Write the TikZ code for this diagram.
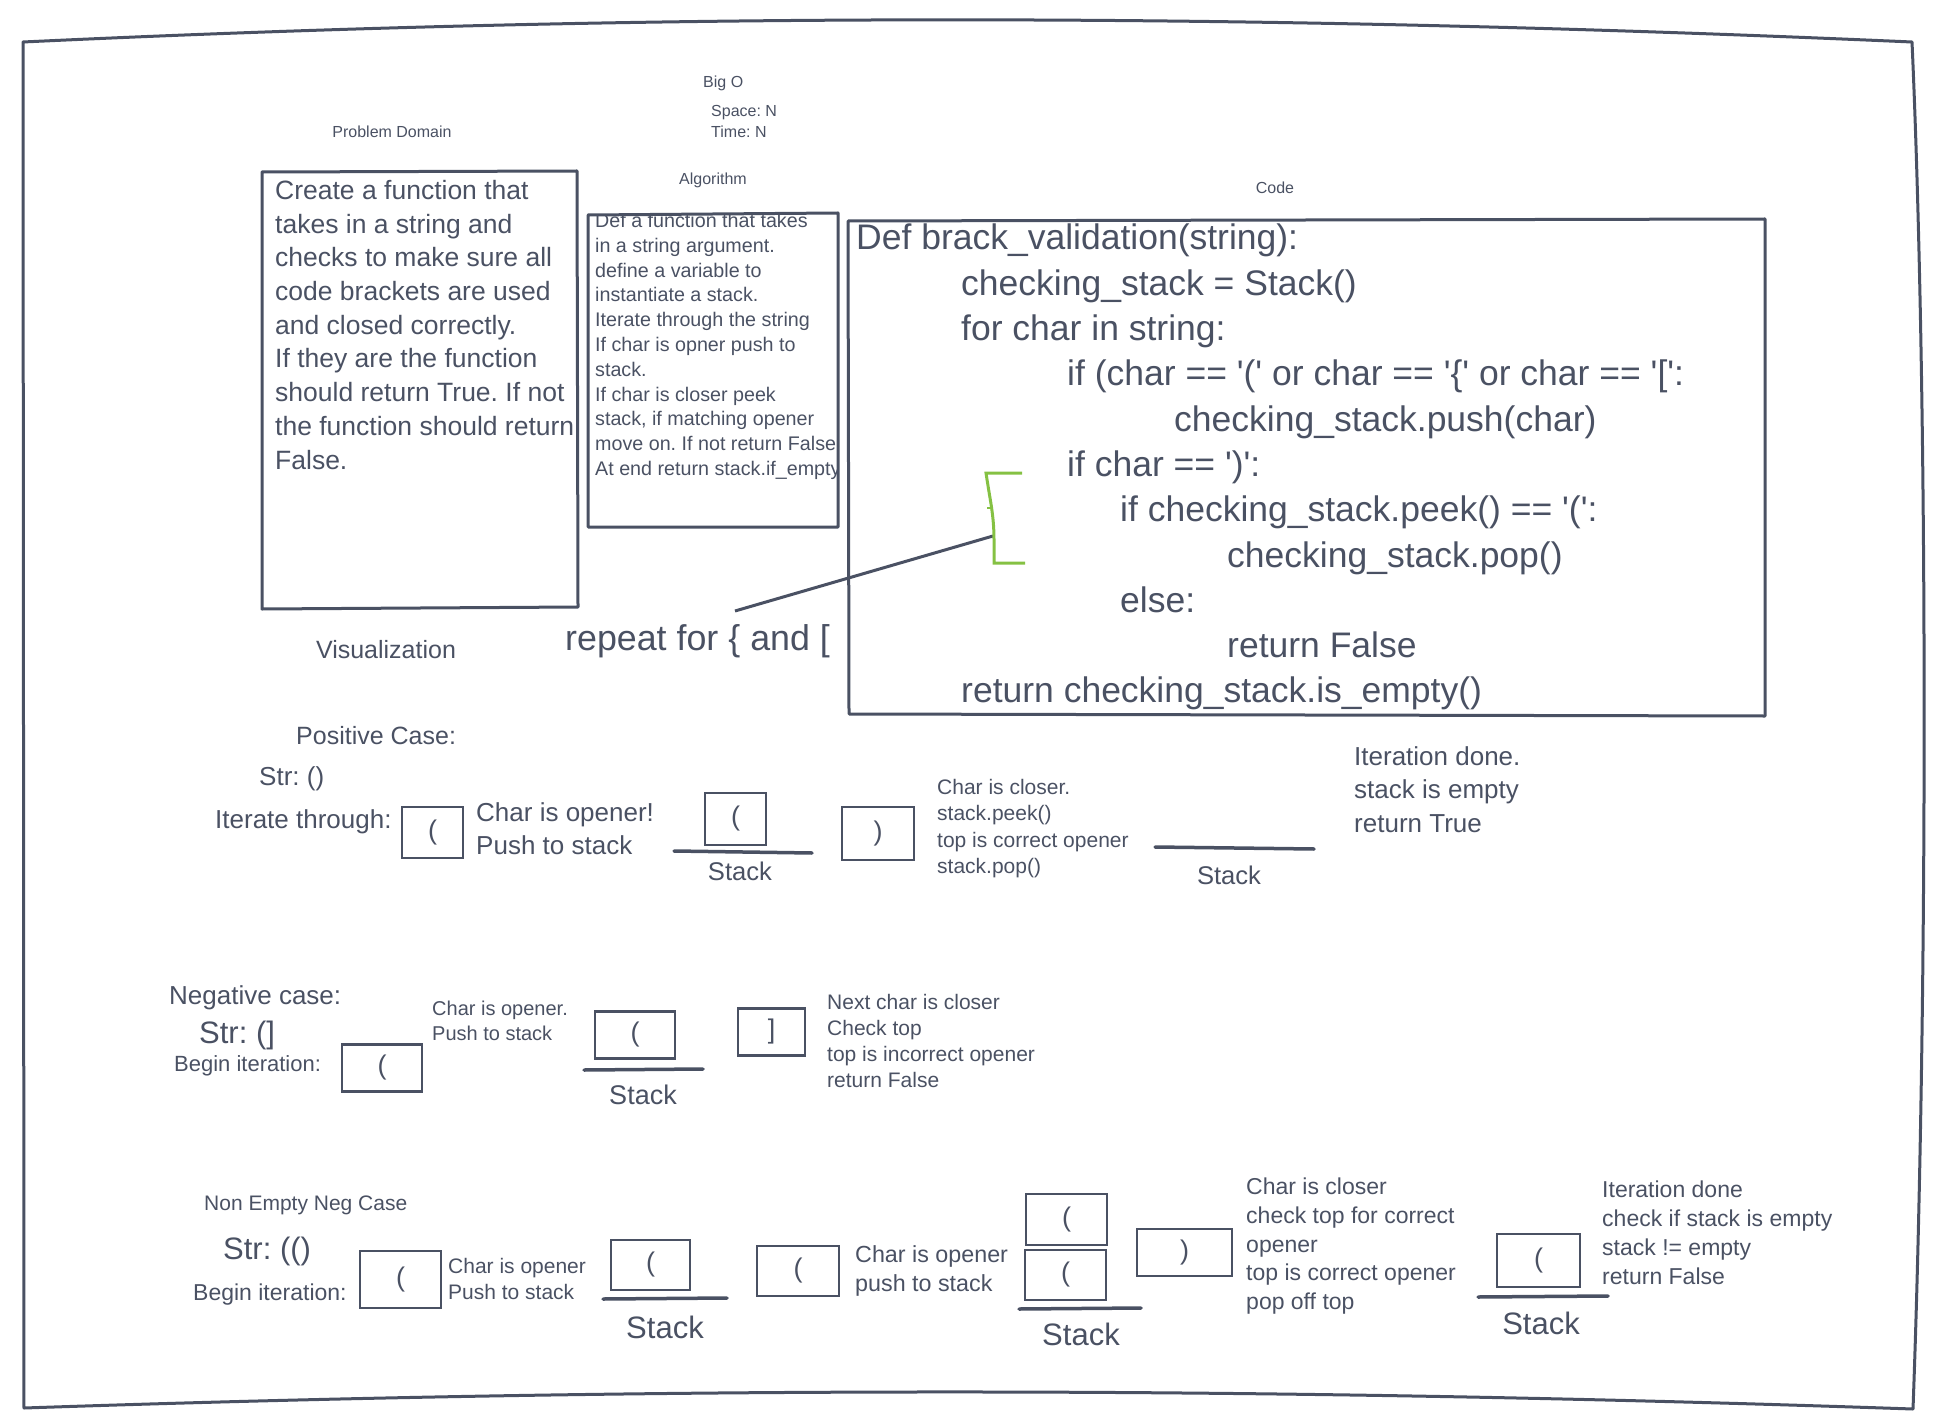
\documentclass[tikz,border=0pt]{standalone}
\usepackage{fontspec}
\setmainfont{Liberation Sans}
\definecolor{ink}{HTML}{4A5163}
\definecolor{tick}{HTML}{85C143}
\newcommand{\fs}[2]{\fontsize{#1}{#2}\selectfont}
\newcommand{\q}{\textquotesingle}
\frenchspacing
\tikzset{
  lbl/.style={anchor=base, inner sep=0pt, text=ink},
  lbw/.style={anchor=base west, inner sep=0pt, text=ink},
  para/.style={anchor=north west, inner sep=0pt, text=ink, align=left},
  cell/.style={draw=ink, line width=2.6pt, inner sep=0pt, text=ink, font=\fs{27}{32}},
  panel/.style={draw=ink, line width=3pt, line join=round},
  floor/.style={draw=ink, line width=3.5pt, line cap=round},
}

\begin{document}
\begin{tikzpicture}[x=1pt, y=-1pt]
  \useasboundingbox (0,0) rectangle (1935,1420);
  \draw[panel] (23,42) .. controls (700,10) and (1300,15) .. (1912,42) .. controls (1928,400) and (1928,1000) .. (1913,1409) .. controls (1300,1388) and (700,1385) .. (24,1408) -- cycle;

  \node[lbw, font=\fs{16}{20}] (bigo) at (703,88) {Big O};
  \node[lbw, font=\fs{16}{20}] (space) at (711,117) {Space: N};
  \node[lbw, font=\fs{16}{20}] (time) at (711,138) {Time: N};
  \node[lbl, font=\fs{16}{20}] (pdlab) at (392,138) {Problem Domain};
  \node[lbl, font=\fs{16}{20}] (alglab) at (713,185) {Algorithm};
  \node[lbl, font=\fs{16}{20}] (codelab) at (1275,194) {Code};

  \draw[panel] (262,172) -- (577,171) -- (578,607) -- (262,609) -- cycle;
  \node[para, font=\fs{26.5}{33.7}] (prob) at (275,180) {Create a function that\\takes in a string and\\checks to make sure all\\code brackets are used\\and closed correctly.\\If they are the function\\should return True. If not\\the function should return\\False.};

  \begin{scope}
    \clip (588,215) -- (838,213) -- (838,527) -- (588,527) -- cycle;
    \node[para, font=\fs{19.7}{24.8}] (algo) at (595,213) {Def a function that takes\\in a string argument.\\define a variable to\\instantiate a stack.\\Iterate through the string\\If char is opner push to\\stack.\\If char is closer peek\\stack, if matching opener\\move on. If not return False\\At end return stack.if\_empty()};
  \end{scope}
  \draw[panel] (588,215) -- (838,213) -- (838,527) -- (588,527) -- cycle;

  \draw[panel] (848,221) -- (1765,219) -- (1765,716) -- (849,714) -- cycle;
  \node[para, font=\fs{35.5}{45.3}] (code) at (856,224) {Def brack\_validation(string):\\
    \hspace*{105pt}checking\_stack = Stack()\\
    \hspace*{105pt}for char in string:\\
    \hspace*{211pt}if (char == \q(\q{} or char == \q\{\q{} or char == \q[\q:\\
    \hspace*{318pt}checking\_stack.push(char)\\
    \hspace*{211pt}if char == \q)\q:\\
    \hspace*{264pt}if checking\_stack.peek() == \q(\q:\\
    \hspace*{371pt}checking\_stack.pop()\\
    \hspace*{264pt}else:\\
    \hspace*{371pt}return False\\
    \hspace*{105pt}return checking\_stack.is\_empty()};

  \node[lbl, font=\fs{25}{31}] (vis) at (386,658) {Visualization};
  \node[lbw, font=\fs{35.8}{44}] (repeat) at (565,650) {repeat for \{ and [};
  \coordinate (rpt) at (735,611);
  \coordinate (brk) at (993,536);
  \draw[draw=ink, line width=3pt] (rpt) -- (brk);
  \draw[tick, line width=3pt] (1022,473) -- (986,473) .. controls (990,500) and (994,515) .. (994,540) -- (994,563) -- (1025,563);
  \draw[tick, line width=2.5pt] (987,508) -- (993,508);

  \node[lbw, font=\fs{25}{31}] (poscase) at (296,744) {Positive Case:};
  \node[lbw, font=\fs{26}{32}] (posstr) at (259,785) {Str: ()};
  \node[lbw, font=\fs{26}{32}] (positer) at (215,828) {Iterate through:};
  \node[cell, minimum width=61pt, minimum height=51pt] (pb1) at (432.5,832.5) {(};
  \node[para, font=\fs{26}{33}] (posnote1) at (476,802) {Char is opener!\\Push to stack};
  \node[cell, minimum width=61pt, minimum height=52pt] (ps1) at (735.5,819) {(};
  \draw[floor] (674,851) -- (812,853);
  \node[lbl, font=\fs{25.6}{32}] (psl1) at (740,880) {Stack};
  \node[cell, minimum width=72pt, minimum height=53pt] (pb2) at (878,833.5) {)};
  \node[para, font=\fs{21}{26.5}] (posnote2) at (937,779) {Char is closer.\\stack.peek()\\top is correct opener\\stack.pop()};
  \draw[floor] (1155,847) -- (1314,849);
  \node[lbl, font=\fs{25.6}{32}] (psl2) at (1229,884) {Stack};
  \node[para, font=\fs{26}{33.5}] (posdone) at (1354,746) {Iteration done.\\stack is empty\\return True};

  \node[lbw, font=\fs{26}{32}] (negcase) at (169,1004) {Negative case:};
  \node[lbw, font=\fs{31}{38}] (negstr) at (199,1043) {Str: (]};
  \node[lbw, font=\fs{22}{27}] (negiter) at (174,1071) {Begin iteration:};
  \node[cell, minimum width=80pt, minimum height=47pt] (nb1) at (382,1068) {(};
  \node[para, font=\fs{20}{25}] (negnote1) at (432,1001) {Char is opener.\\Push to stack};
  \node[cell, minimum width=80pt, minimum height=47pt] (ns1) at (635,1035) {(};
  \draw[floor] (584,1070) -- (703,1069);
  \node[lbl, font=\fs{27}{33}] (nsl1) at (643,1104) {Stack};
  \node[cell, minimum width=67pt, minimum height=47pt] (nb2) at (771.5,1032) {]};
  \node[para, font=\fs{21}{26}] (negnote2) at (827,994) {Next char is closer\\Check top\\top is incorrect opener\\return False};

  \node[lbw, font=\fs{21}{26}] (necase) at (204,1210) {Non Empty Neg Case};
  \node[lbw, font=\fs{31}{38}] (nestr) at (223,1259) {Str: (()};
  \node[lbw, font=\fs{23}{28}] (neiter) at (193,1300) {Begin iteration:};
  \node[cell, minimum width=81pt, minimum height=57pt] (eb1) at (400.5,1279.5) {(};
  \node[para, font=\fs{21}{26}] (nenote1) at (448,1258) {Char is opener\\Push to stack};
  \node[cell, minimum width=79pt, minimum height=50pt] (es1) at (650.5,1265) {(};
  \draw[floor] (603,1299) -- (727,1298);
  \node[lbl, font=\fs{31}{38}] (esl1) at (665,1338) {Stack};
  \node[cell, minimum width=82pt, minimum height=50pt] (eb2) at (798,1271) {(};
  \node[para, font=\fs{23.3}{29.6}] (nenote2) at (855,1245) {Char is opener\\push to stack};
  \node[cell, minimum width=81pt, minimum height=51pt] (es2a) at (1066.5,1219.5) {(};
  \node[cell, minimum width=81pt, minimum height=50pt] (es2b) at (1065.5,1275) {(};
  \draw[floor] (1019,1309) -- (1141,1308);
  \node[lbl, font=\fs{31}{38}] (esl2) at (1081,1345) {Stack};
  \node[cell, minimum width=95pt, minimum height=47pt] (eb3) at (1184.5,1252.5) {)};
  \node[para, font=\fs{23}{28.6}] (nenote3) at (1246,1178) {Char is closer\\check top for correct\\opener\\top is correct opener\\pop off top};
  \node[cell, minimum width=83pt, minimum height=53pt] (es3) at (1538.5,1260.5) {(};
  \draw[floor] (1478,1297) -- (1608,1296);
  \node[lbl, font=\fs{31}{38}] (esl3) at (1541,1334) {Stack};
  \node[para, font=\fs{23}{28.8}] (nedone) at (1602,1181) {Iteration done\\check if stack is empty\\stack != empty\\return False};
\end{tikzpicture}
\end{document}
